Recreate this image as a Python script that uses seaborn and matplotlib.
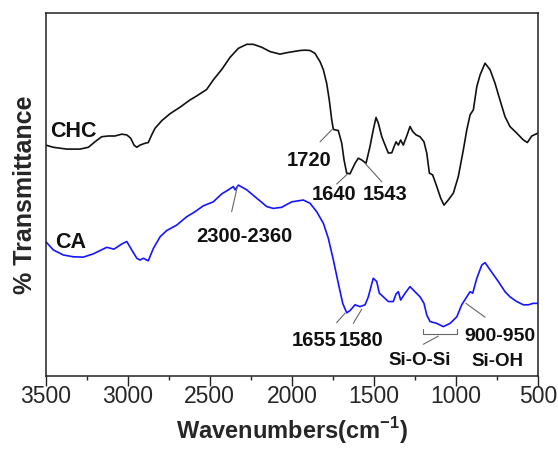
import matplotlib
matplotlib.use("Agg")
import matplotlib.pyplot as plt
from matplotlib.ticker import MultipleLocator
import seaborn as sns
import pandas as pd

# ---- data ----
chc_wn = [3500, 3454, 3372, 3291, 3240, 3200, 3159, 3119, 3078, 3037, 3006, 2982, 2962, 2945,
          2925, 2895, 2875, 2854, 2834, 2793, 2743, 2682, 2621, 2580, 2519, 2479, 2427, 2377,
          2326, 2275, 2235, 2184, 2133, 2072, 2031, 1950, 1920, 1889, 1859, 1828, 1808, 1788,
          1772, 1757, 1747, 1717, 1696, 1682, 1666, 1646, 1615, 1595, 1574, 1548, 1524, 1504,
          1487, 1473, 1452, 1432, 1412, 1391, 1377, 1365, 1351, 1337, 1321, 1300, 1280, 1263,
          1243, 1219, 1195, 1178, 1162, 1142, 1117, 1093, 1073, 1047, 1016, 986, 955, 934, 914,
          894, 873, 853, 823, 792, 762, 732, 701, 671, 630, 589, 565, 538, 500]
chc_t = [63.6, 63.0, 62.5, 62.5, 63.0, 64.5, 65.9, 66.1, 66.1, 66.6, 66.4, 65.5, 63.6, 63.0,
         63.6, 64.1, 64.3, 66.4, 68.2, 70.3, 72.2, 74.0, 76.0, 77.1, 78.9, 81.5, 84.4, 87.7,
         90.2, 91.3, 91.3, 90.5, 89.3, 88.6, 89.0, 89.6, 89.7, 89.6, 88.8, 86.5, 84.3, 80.6,
         76.0, 70.5, 67.9, 67.6, 64.1, 59.5, 55.9, 55.7, 58.6, 60.0, 59.5, 58.6, 63.2, 67.8,
         71.2, 69.6, 65.9, 63.6, 61.4, 61.5, 63.2, 64.5, 63.6, 65.0, 63.6, 66.1, 68.7, 67.3,
         66.4, 65.9, 64.5, 61.4, 55.9, 55.4, 52.2, 49.0, 47.1, 48.5, 50.4, 54.9, 62.3, 67.8, 71.9,
         73.3, 79.7, 82.9, 86.1, 84.3, 80.6, 76.0, 71.4, 68.7, 66.9, 65.0, 64.3, 66.1, 66.9]

ca_wn = [3500, 3454, 3393, 3332, 3271, 3210, 3128, 3084, 3037, 3006, 2976, 2945, 2925, 2905,
         2875, 2844, 2803, 2763, 2702, 2641, 2590, 2540, 2479, 2427, 2387, 2357, 2346, 2326,
         2275, 2214, 2153, 2113, 2062, 2001, 1930, 1889, 1849, 1808, 1778, 1747, 1717, 1690,
         1666, 1646, 1615, 1585, 1554, 1534, 1504, 1483, 1467, 1443, 1412, 1382, 1365, 1351,
         1337, 1310, 1280, 1250, 1219, 1195, 1178, 1158, 1117, 1077, 1036, 995, 965, 934, 914,
         898, 873, 843, 823, 792, 742, 701, 671, 630, 589, 559, 529, 500]
ca_t = [37.1, 34.8, 33.4, 32.9, 32.8, 33.7, 35.5, 35.0, 36.4, 37.1, 34.8, 32.5, 32.0, 32.5,
        31.8, 35.2, 38.4, 40.1, 41.6, 43.9, 45.3, 46.9, 48.0, 50.2, 51.3, 52.2, 51.3, 52.6,
        51.3, 49.0, 46.7, 46.2, 46.5, 48.0, 48.5, 47.6, 45.3, 42.1, 38.0, 32.0, 25.6, 20.1,
        17.5, 18.1, 19.7, 19.2, 19.7, 21.9, 27.0, 26.1, 22.9, 21.9, 20.6, 20.6, 22.7, 23.3,
        21.0, 22.9, 24.7, 23.3, 21.9, 20.1, 16.9, 15.1, 14.6, 13.7, 14.6, 16.4, 19.7, 21.9, 23.3,
        22.9, 27.0, 30.6, 31.3, 29.3, 26.1, 23.3, 21.9, 20.6, 19.7, 19.7, 20.1, 20.1]

x_ticks = [3500, 3000, 2500, 2000, 1500, 1000, 500]

# ---- style ----
sns.set_style("ticks")
plt.rcParams['font.family'] = ['Liberation Sans', 'DejaVu Sans']
plt.rcParams['mathtext.fontset'] = 'custom'
plt.rcParams['mathtext.rm'] = 'Liberation Sans'
plt.rcParams['mathtext.bf'] = 'Liberation Sans:bold'

fig = plt.figure(figsize=(5.58, 4.49), dpi=100)
ax = fig.add_axes([0.0819, 0.1615, 0.8823, 0.8103])

df_chc = pd.DataFrame({"wn": chc_wn, "t": chc_t})
df_ca = pd.DataFrame({"wn": ca_wn, "t": ca_t})
sns.lineplot(data=df_chc, x="wn", y="t", ax=ax, color="#111111", lw=1.2, estimator=None)
sns.lineplot(data=df_ca, x="wn", y="t", ax=ax, color="#1515ff", lw=1.2, estimator=None)

ax.set_xlim(3500, 500)
ax.set_ylim(0, 100)
ax.set_xticks(x_ticks)
ax.set_xticklabels([str(v) for v in x_ticks])
ax.xaxis.set_minor_locator(MultipleLocator(250))
ax.set_yticks([])
ax.tick_params(axis='x', which='major', direction='out', length=7, width=1.0,
               labelsize=16.5, pad=-1, color='#222222')
ax.tick_params(axis='x', which='minor', direction='out', length=3, width=1.0, color='#222222')
for s in ax.spines.values():
    s.set_linewidth(1.1)
    s.set_color('#222222')

ax.set_xlabel(r"Wavenumbers(cm$^{\mathbf{-1}}$)", fontsize=17, fontweight='bold', labelpad=5)
ax.set_ylabel("% Transmittance", fontsize=18, fontweight='bold', labelpad=6)

# ---- annotations ----
bold = dict(fontweight='bold', color='#111111')
ax.text(3474, 67.2, "CHC", ha='left', va='center', fontsize=15.5, **bold)
ax.text(3443, 36.7, "CA", ha='left', va='center', fontsize=15.5, **bold)

ax.text(1894, 59.4, "1720", ha='center', va='center', fontsize=14.5, **bold)
ax.text(1742, 49.9, "1640", ha='center', va='center', fontsize=14.5, **bold)
ax.text(1432, 49.9, "1543", ha='center', va='center', fontsize=14.5, **bold)
ax.text(2290, 38.6, "2300-2360", ha='center', va='center', fontsize=14.5, **bold)
ax.text(1861, 9.8, "1655", ha='center', va='center', fontsize=14.5, **bold)
ax.text(1577, 9.8, "1580", ha='center', va='center', fontsize=14.5, **bold)
ax.text(732, 11.1, "900-950", ha='center', va='center', fontsize=14, **bold)
ax.text(1219, 4.5, "Si-O-Si", ha='center', va='center', fontsize=13.5, **bold)
ax.text(747, 4.0, "Si-OH", ha='center', va='center', fontsize=13.5, **bold)

gray = dict(color='#666666', lw=0.8)
ax.plot([1828, 1757], [64.5, 67.8], **gray)
ax.plot([1727, 1662], [52.9, 55.6], **gray)
ax.plot([1452, 1554], [53.5, 58.6], **gray)
ax.plot([2367, 2332], [45.3, 52.2], **gray)
ax.plot([1727, 1676], [14.8, 17.4], **gray)
ax.plot([1626, 1574], [14.6, 18.5], **gray)
ax.plot([1199, 1199, 995, 995], [13.0, 11.6, 11.6, 13.0], **gray)
ax.plot([1199, 1107], [8.85, 11.1], **gray)
ax.plot([823, 939], [16.3, 20.1], **gray)

fig.savefig("out.png", dpi=100)
